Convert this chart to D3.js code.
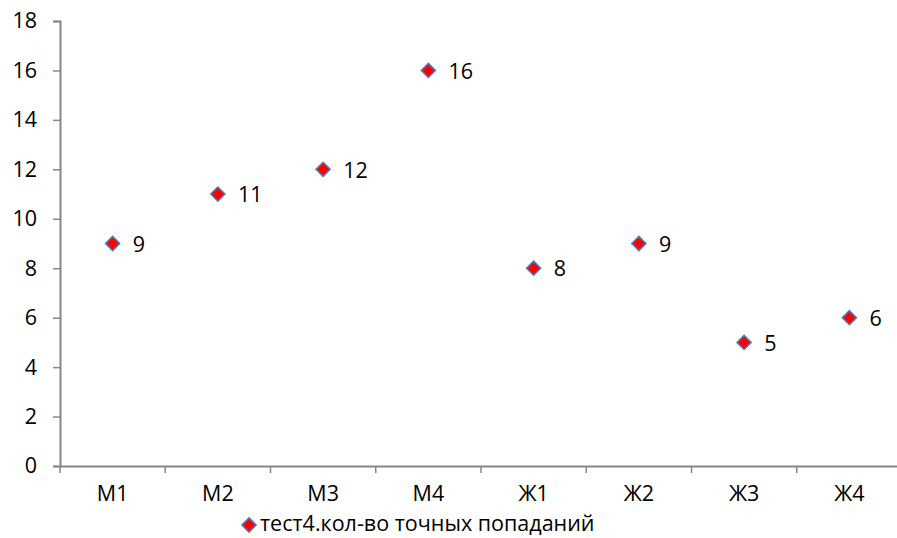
<!DOCTYPE html>
<html><head><meta charset="utf-8">
<script src="https://cdn.jsdelivr.net/npm/d3@7"></script>
<style>body{margin:0;background:#fff}svg{display:block}text{font-family:"Open Sans",sans-serif;fill:#000}</style>
</head><body>
<script>
const categories = ["М1","М2","М3","М4","Ж1","Ж2","Ж3","Ж4"];
const values = [9, 11, 12, 16, 8, 9, 5, 6];
const yTicks = [0,2,4,6,8,10,12,14,16,18];
const seriesName = "тест4.кол-во точных попаданий";

const W = 897, H = 538, FS = "21.5px";
const svg = d3.select("body").append("svg").attr("width", W).attr("height", H);
const mLeft = 60, mRight = 902, mTop = 21, mBottom = 466;
const x = d3.scaleBand().domain(categories).range([mLeft, mRight]);
const y = d3.scaleLinear().domain([0, 18]).range([mBottom, mTop]);

const yAxis = svg.append("g").attr("transform", `translate(${mLeft},0)`)
  .call(d3.axisLeft(y).tickValues(yTicks).tickSize(7).tickPadding(16));
const xAxis = svg.append("g").attr("transform", `translate(0,${mBottom})`)
  .call(d3.axisBottom(x).tickSize(0).tickPadding(20));
[yAxis, xAxis].forEach(g => {
  g.select(".domain").attr("stroke", "#868686").attr("stroke-width", 2);
  g.selectAll("line").attr("stroke", "#868686").attr("stroke-width", 1.5);
  g.selectAll("text").style("font-size", FS).attr("fill", "#000");
});
const bounds = categories.map(c => x(c)).concat([mRight]);
svg.append("g").selectAll("line").data(bounds).join("line")
  .attr("x1", d => d).attr("x2", d => d).attr("y1", mBottom).attr("y2", mBottom + 7)
  .attr("stroke", "#868686").attr("stroke-width", 1.5);

const diamond = d3.symbol().type(d3.symbolSquare).size(100);
const pts = svg.append("g").selectAll("g").data(values).join("g")
  .attr("transform", (d, i) => `translate(${x(categories[i]) + x.bandwidth()/2},${y(d)})`);
pts.append("path").attr("d", diamond).attr("transform","rotate(45)")
  .attr("fill", "#ff0000").attr("stroke", "#4a7ebb").attr("stroke-width", 1.5);
pts.append("text").attr("x", 20).attr("dy", "0.38em").style("font-size", FS).text(d => d);

const lg = svg.append("g").attr("transform", "translate(249,525)");
lg.append("path").attr("d", diamond).attr("transform","rotate(45)")
  .attr("fill", "#ff0000").attr("stroke", "#4a7ebb").attr("stroke-width", 1.5);
lg.append("text").attr("x", 11).attr("dy", "0.3em").style("font-size", "21.5px").text(seriesName);
</script>
</body></html>
